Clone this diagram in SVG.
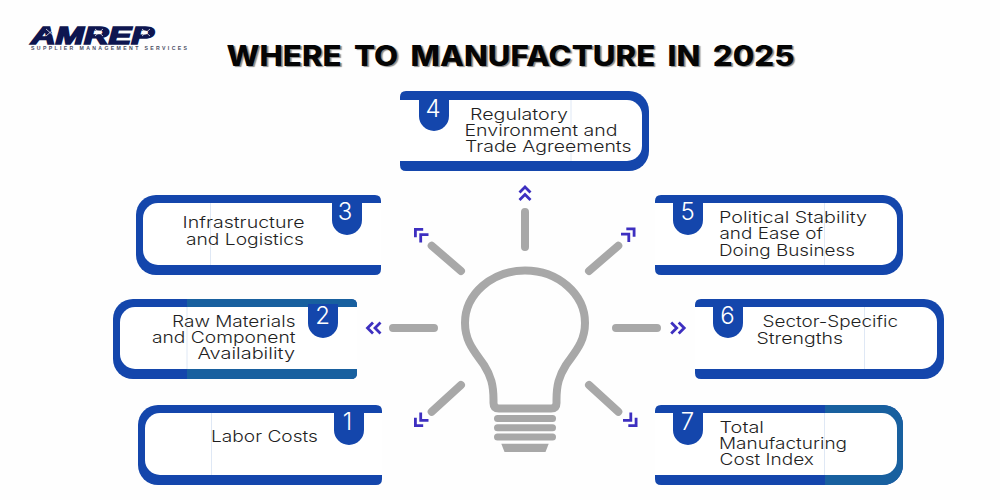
<svg xmlns="http://www.w3.org/2000/svg" xmlns:xlink="http://www.w3.org/1999/xlink" width="1000" height="500" viewBox="0 0 1000 500">
<style>
.blue{fill:#1446ac}
.teal{fill:#18609f}
.inner{fill:#fff}
.seam{stroke:#dfe8f5;stroke-width:1;fill:none}
.badge{fill:#1446ac}
.num{font-family:"Inter","Liberation Sans",sans-serif;font-size:24px;font-weight:300;fill:#fff;text-anchor:middle}
.lbl{font-family:"Inter","Liberation Sans",sans-serif;font-size:15.500px;font-weight:300;fill:#1f1f1f}
.ray{stroke:#a8a8a8;stroke-width:8;stroke-linecap:round;fill:none}
.chev{stroke:#3d2fc0;stroke-width:2.800;fill:none}
.title{font-family:"Inter","Liberation Sans",sans-serif;font-size:28px;font-weight:800;word-spacing:5px;fill:#050505;text-shadow:1.500px 1.500px 1px #8a8a8a}
.spark{stroke:#fff;stroke-width:.7;fill:none}
</style>
<defs>
<path id="ch" class="chev" d="M-5.500-1 0-6.500 5.500-1M-5.500 6.500 0 1 5.500 6.500"/>
</defs>
<rect width="1000" height="500" fill="#fefefe"/>
<g id="logo">
<text x="31" y="43.500" font-family="'Liberation Sans',sans-serif" font-size="23" font-weight="700" font-style="italic" fill="#0e1650" stroke="#0e1650" stroke-width="1.500" textLength="123" lengthAdjust="spacingAndGlyphs">AMREP</text>
<path class="spark" d="M46 29 54 36M46 36 54 29M95 29 103 36M95 36 103 29M142 29 150 36M142 36 150 29"/>
<text x="31" y="50" font-family="'Liberation Sans',sans-serif" font-size="5.200" font-weight="700" fill="#4a4d63" textLength="156" lengthAdjust="spacing">SUPPLIER MANAGEMENT SERVICES</text>
</g>
<text class="title" x="226.500" y="65.500" textLength="568" lengthAdjust="spacingAndGlyphs">WHERE TO MANUFACTURE IN 2025</text>

<g id="connectors">
<path class="ray" d="M525 212V247M431.700 245.700 461 271M618.300 245.700 589 271M393 328H434M616 328H657M461 385 431.700 411.700M589 385 618.300 411.700"/>
<use xlink:href="#ch" href="#ch" transform="translate(525 193.500)"/>
<use xlink:href="#ch" href="#ch" transform="translate(420 234) rotate(-45)"/>
<use xlink:href="#ch" href="#ch" transform="translate(629.500 233.500) rotate(45)"/>
<use xlink:href="#ch" href="#ch" transform="translate(374 328) rotate(-90)"/>
<use xlink:href="#ch" href="#ch" transform="translate(677.700 328) rotate(90)"/>
<use xlink:href="#ch" href="#ch" transform="translate(420 421) rotate(-135)"/>
<use xlink:href="#ch" href="#ch" transform="translate(631.500 421) rotate(135)"/>
</g>

<g id="bulb">
<path d="M525 270.500C558 270.500 585 294 585 323C585 342 575 352 566 365C559 376 556.500 385 556.500 400V403Q556.500 408.500 551 408.500H499Q493.500 408.500 493.500 403V400C493.500 385 491 376 484 365C475 352 465 342 465 323C465 294 492 270.500 525 270.500Z" fill="none" stroke="#a8a8a8" stroke-width="8"/>
<rect x="494" y="415" width="62" height="7" rx="3.500" fill="#a8a8a8"/>
<rect x="494" y="424.300" width="62" height="7" rx="3.500" fill="#a8a8a8"/>
<rect x="494" y="433.600" width="62" height="7" rx="3.500" fill="#a8a8a8"/>
<path d="M501.300 443.700H548.700L545.500 452H504.500Z" fill="#a8a8a8"/>
</g>

<g id="node-3">
<path class="blue" d="M375 195Q381 195 381 201V269Q381 275 375 275H156A20 20 0 0 1 136 255V215A20 20 0 0 1 156 195Z"/>
<path class="inner" d="M381 203V265H158A15 15 0 0 1 143 250V218A15 15 0 0 1 158 203Z"/>
<path class="seam" d="M210.500 203V265"/>
<path class="badge" d="M332 200H362V220A15 15 0 0 1 332 220Z"/>
<text class="num" x="345" y="220">3</text>
<text class="lbl" x="182.500" y="228" textLength="122" lengthAdjust="spacingAndGlyphs">Infrastructure</text>
<text class="lbl" x="186" y="244.500" textLength="118" lengthAdjust="spacingAndGlyphs">and Logistics</text>
</g>

<g id="node-2">
<path class="blue" d="M351 299Q357 299 357 305V373Q357 379 351 379H133A20 20 0 0 1 113 359V319A20 20 0 0 1 133 299Z"/>
<path class="teal" d="M187 299H351Q357 299 357 305V373Q357 379 351 379H187Z"/>
<path class="inner" d="M357 307V369H135A15 15 0 0 1 120 354V322A15 15 0 0 1 135 307Z"/>
<path class="seam" d="M187 307V369"/>
<path class="badge" d="M308 304H338V323A15 15 0 0 1 308 323Z"/>
<text class="num" x="322.500" y="323.700">2</text>
<text class="lbl" x="172" y="326.800" textLength="123.500" lengthAdjust="spacingAndGlyphs">Raw Materials</text>
<text class="lbl" x="152" y="343" textLength="143.500" lengthAdjust="spacingAndGlyphs">and Component</text>
<text class="lbl" x="197.500" y="359.300" textLength="97.500" lengthAdjust="spacingAndGlyphs">Availability</text>
</g>

<g id="node-1">
<path class="blue" d="M376 405Q382 405 382 411V479Q382 485 376 485H158A20 20 0 0 1 138 465V425A20 20 0 0 1 158 405Z"/>
<path class="inner" d="M382 413V475H160A15 15 0 0 1 145 460V428A15 15 0 0 1 160 413Z"/>
<path class="seam" d="M211.500 413V475"/>
<path class="badge" d="M334 410H364V430A15 15 0 0 1 334 430Z"/>
<text class="num" x="347.500" y="430">1</text>
<text class="lbl" x="211" y="442" textLength="107" lengthAdjust="spacingAndGlyphs">Labor Costs</text>
</g>

<g id="node-4">
<path class="blue" d="M406 91Q400 91 400 97V165Q400 171 406 171H629A20 20 0 0 0 649 151V111A20 20 0 0 0 629 91Z"/>
<path class="inner" d="M400 100V161H627A15 15 0 0 0 642 146V115A15 15 0 0 0 627 100Z"/>
<path class="seam" d="M571 100V161"/>
<path class="badge" d="M419 96H449V116A15 15 0 0 1 419 116Z"/>
<text class="num" x="433" y="116.700">4</text>
<text class="lbl" x="470" y="119.700" textLength="98" lengthAdjust="spacingAndGlyphs">Regulatory</text>
<text class="lbl" x="464.500" y="135.800" textLength="153" lengthAdjust="spacingAndGlyphs">Environment and</text>
<text class="lbl" x="465" y="152" textLength="166.500" lengthAdjust="spacingAndGlyphs">Trade Agreements</text>
</g>

<g id="node-5">
<path class="blue" d="M661 195Q655 195 655 201V269Q655 275 661 275H883A20 20 0 0 0 903 255V215A20 20 0 0 0 883 195Z"/>
<path class="inner" d="M655 203V265H882A15 15 0 0 0 897 250V218A15 15 0 0 0 882 203Z"/>
<path class="seam" d="M824.500 203V265"/>
<path class="badge" d="M673 200H703V220A15 15 0 0 1 673 220Z"/>
<text class="num" x="687.500" y="220">5</text>
<text class="lbl" x="719" y="222.800" textLength="148" lengthAdjust="spacingAndGlyphs">Political Stability</text>
<text class="lbl" x="719.500" y="239.300" textLength="103.500" lengthAdjust="spacingAndGlyphs">and Ease of</text>
<text class="lbl" x="719" y="255.800" textLength="136" lengthAdjust="spacingAndGlyphs">Doing Business</text>
</g>

<g id="node-6">
<path class="blue" d="M701 299Q695 299 695 305V373Q695 379 701 379H924A20 20 0 0 0 944 359V319A20 20 0 0 0 924 299Z"/>
<path class="inner" d="M695 307V369H922A15 15 0 0 0 937 354V322A15 15 0 0 0 922 307Z"/>
<path class="seam" d="M864.500 307V369"/>
<path class="badge" d="M713 304H743V323A15 15 0 0 1 713 323Z"/>
<text class="num" x="727.500" y="323.700">6</text>
<text class="lbl" x="762.500" y="327.400" textLength="135.500" lengthAdjust="spacingAndGlyphs">Sector-Specific</text>
<text class="lbl" x="756.500" y="343.700" textLength="86.500" lengthAdjust="spacingAndGlyphs">Strengths</text>
</g>

<g id="node-7">
<path class="blue" d="M661 405Q655 405 655 411V479Q655 485 661 485H883A20 20 0 0 0 903 465V425A20 20 0 0 0 883 405Z"/>
<path class="teal" d="M825 405H883A20 20 0 0 1 903 425V465A20 20 0 0 1 883 485H825Z"/>
<path class="inner" d="M655 413V475H882A15 15 0 0 0 897 460V428A15 15 0 0 0 882 413Z"/>
<path class="seam" d="M824.500 413V475"/>
<path class="badge" d="M673 410H703V430A15 15 0 0 1 673 430Z"/>
<text class="num" x="687.500" y="430">7</text>
<text class="lbl" x="719.500" y="432.800" textLength="44.500" lengthAdjust="spacingAndGlyphs">Total</text>
<text class="lbl" x="719" y="449" textLength="128" lengthAdjust="spacingAndGlyphs">Manufacturing</text>
<text class="lbl" x="719.500" y="465.300" textLength="94.500" lengthAdjust="spacingAndGlyphs">Cost Index</text>
</g>
</svg>
